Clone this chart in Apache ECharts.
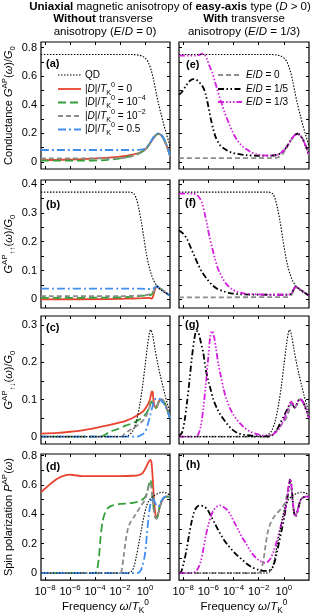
<!DOCTYPE html>
<html><head><meta charset="utf-8">
<script src="https://cdn.jsdelivr.net/npm/echarts@6/dist/echarts.min.js"></script>
<style>html,body{margin:0;padding:0;background:#fff}#c{width:315px;height:616px}</style>
</head><body><div id="c"></div>
<script>
// ---------- DATA (x = log10(omega/T_K^0)) ----------
const xTicks = [-8, -6, -4, -2, 0];
const yTicksA = [0,0.1,0.2,0.3,0.4,0.5,0.6,0.7,0.8], yLabA = [0,0.2,0.4,0.6,0.8];
const yTicksB = [0,0.05,0.1,0.15,0.2,0.25,0.3,0.35,0.4], yLabB = [0,0.1,0.2,0.3,0.4];
const yTicksC = [0,0.05,0.1,0.15,0.2,0.25,0.3], yLabC = [0,0.1,0.2,0.3];
const yTicksD = [0,0.1,0.2,0.3,0.4,0.5,0.6,0.7,0.8], yLabD = [0,0.2,0.4,0.6,0.8];

// (a) conductance
const aQD  = [[-8.33,0.752],[-1,0.752],[-0.5,0.748],[-0.2,0.74],[0.1,0.72],[0.3,0.69],[0.5,0.64],[0.7,0.57],[0.9,0.48],[1.1,0.4],[1.3,0.33],[1.5,0.26],[1.7,0.2],[1.9,0.14],[2,0.11]];
const aD0  = [[-8.33,0.012],[-7,0.014],[-6,0.016],[-5,0.019],[-4,0.024],[-3,0.03],[-2,0.037],[-1.5,0.042],[-1,0.05],[-0.5,0.062],[-0.2,0.075],[0.1,0.095],[0.4,0.13],[0.7,0.17],[0.9,0.19],[1.1,0.197],[1.3,0.185],[1.5,0.16],[1.7,0.12],[1.85,0.085],[2,0.04]];
const aD4  = [[-8.33,0.008],[-5,0.009],[-3.5,0.011],[-3,0.014],[-2,0.025],[-1.5,0.033],[-1,0.045],[-0.5,0.06],[-0.2,0.073],[0.1,0.094],[0.4,0.13],[0.7,0.17],[0.9,0.19],[1.1,0.197],[1.3,0.185],[1.5,0.16],[1.7,0.12],[1.85,0.085],[2,0.04]];
const aD2  = [[-8.33,0.024],[-3,0.024],[-2,0.026],[-1.5,0.03],[-1,0.04],[-0.5,0.057],[-0.2,0.072],[0.1,0.093],[0.4,0.13],[0.7,0.17],[0.9,0.19],[1.1,0.197],[1.3,0.185],[1.5,0.16],[1.7,0.12],[1.85,0.085],[2,0.04]];
const aD05 = [[-8.33,0.083],[-1,0.083],[-0.5,0.084],[-0.2,0.087],[0.1,0.1],[0.4,0.135],[0.7,0.175],[0.9,0.195],[1.1,0.2],[1.3,0.19],[1.5,0.165],[1.7,0.125],[1.85,0.09],[2,0.045]];
// (b) G_uu
const bQD  = [[-8.33,0.372],[-1.2,0.372],[-0.9,0.367],[-0.7,0.35],[-0.5,0.315],[-0.3,0.27],[-0.1,0.215],[0.1,0.16],[0.3,0.118],[0.5,0.087],[0.7,0.065],[0.9,0.05],[1.2,0.035],[1.6,0.023],[2,0.015]];
const bD0  = [[-8.33,0],[-3,0.001],[-1,0.003],[-0.2,0.004],[0.3,0.005],[0.55,0.003],[0.7,0.02],[0.85,0.04],[0.95,0.045],[1.1,0.04],[1.4,0.032],[1.7,0.022],[2,0.012]];
const bD4  = [[-8.33,0.005],[-3,0.006],[-1,0.009],[-0.3,0.012],[0.2,0.014],[0.5,0.016],[0.7,0.028],[0.85,0.042],[0.95,0.045],[1.1,0.04],[1.4,0.032],[1.7,0.022],[2,0.012]];
const bD2  = [[-8.33,0.011],[-2,0.011],[-1,0.012],[-0.3,0.014],[0.2,0.016],[0.5,0.02],[0.7,0.03],[0.85,0.042],[0.95,0.045],[1.1,0.04],[1.4,0.032],[1.7,0.022],[2,0.012]];
const bD05 = [[-8.33,0.037],[-0.5,0.037],[0.2,0.036],[0.5,0.035],[0.7,0.038],[0.85,0.044],[0.95,0.046],[1.1,0.041],[1.4,0.032],[1.7,0.022],[2,0.012]];
// (c) G_ud
const cQD  = [[-8.33,0],[-1.6,0],[-1.3,0.004],[-1.0,0.014],[-0.7,0.04],[-0.4,0.09],[-0.2,0.135],[0,0.19],[0.2,0.245],[0.35,0.278],[0.45,0.288],[0.6,0.275],[0.8,0.235],[1.0,0.2],[1.2,0.168],[1.4,0.14],[1.6,0.112],[1.8,0.087],[2,0.064]];
const cD0  = [[-8.33,0.008],[-7,0.01],[-6,0.013],[-5,0.017],[-4,0.023],[-3,0.03],[-2,0.038],[-1.5,0.043],[-1,0.05],[-0.5,0.06],[-0.1,0.07],[0.2,0.085],[0.4,0.1],[0.55,0.122],[0.62,0.12],[0.7,0.09],[0.8,0.08],[0.9,0.078],[1.0,0.085],[1.15,0.097],[1.3,0.1],[1.45,0.097],[1.6,0.088],[1.8,0.07],[2,0.05]];
const cD4  = [[-8.33,0],[-3.5,0],[-3.2,0.005],[-2.8,0.013],[-2.2,0.02],[-1.5,0.03],[-1,0.036],[-0.5,0.045],[-0.1,0.055],[0.2,0.068],[0.4,0.085],[0.52,0.095],[0.62,0.09],[0.75,0.08],[0.88,0.077],[1.0,0.085],[1.15,0.097],[1.3,0.1],[1.45,0.097],[1.6,0.088],[1.8,0.07],[2,0.05]];
const cD2  = [[-8.33,0],[-1.9,0],[-1.6,0.008],[-1.2,0.018],[-0.8,0.026],[-0.4,0.036],[0,0.05],[0.25,0.068],[0.45,0.088],[0.55,0.092],[0.65,0.087],[0.8,0.079],[0.9,0.078],[1.0,0.085],[1.15,0.097],[1.3,0.1],[1.45,0.097],[1.6,0.088],[1.8,0.07],[2,0.05]];
const cD05 = [[-8.33,0],[-0.6,0],[-0.3,0.004],[0,0.012],[0.2,0.03],[0.4,0.055],[0.55,0.075],[0.7,0.093],[0.85,0.102],[1.0,0.104],[1.2,0.1],[1.4,0.093],[1.6,0.084],[1.8,0.068],[2,0.05]];
// (d) spin polarization
const dQD  = [[-8.33,0],[-1.4,0],[-1.1,0.01],[-0.9,0.04],[-0.7,0.11],[-0.5,0.2],[-0.3,0.29],[-0.1,0.38],[0.1,0.45],[0.3,0.49],[0.6,0.52],[1.0,0.54],[1.4,0.55],[1.7,0.545],[2,0.53]];
const dD0  = [[-8.33,0.55],[-8,0.575],[-7.6,0.605],[-7.2,0.632],[-6.8,0.652],[-6.4,0.665],[-6.0,0.67],[-5.6,0.665],[-5.0,0.66],[-4,0.66],[-3,0.66],[-2,0.66],[-1,0.662],[-0.5,0.667],[-0.2,0.68],[0.05,0.715],[0.25,0.75],[0.42,0.77],[0.52,0.75],[0.62,0.64],[0.72,0.5],[0.82,0.41],[0.92,0.372],[1.02,0.39],[1.15,0.44],[1.3,0.48],[1.5,0.51],[1.7,0.52],[2,0.52]];
const dD4  = [[-8.33,0],[-4.0,0],[-3.85,0.02],[-3.7,0.1],[-3.55,0.25],[-3.4,0.35],[-3.2,0.41],[-3.0,0.44],[-2.6,0.46],[-2,0.47],[-1.2,0.475],[-0.6,0.485],[-0.2,0.5],[0.1,0.53],[0.3,0.6],[0.42,0.635],[0.52,0.6],[0.62,0.5],[0.72,0.42],[0.82,0.38],[0.92,0.37],[1.02,0.39],[1.15,0.44],[1.3,0.48],[1.5,0.51],[1.7,0.52],[2,0.52]];
const dD2  = [[-8.33,0],[-2.0,0],[-1.85,0.03],[-1.7,0.12],[-1.55,0.22],[-1.4,0.29],[-1.2,0.34],[-0.9,0.38],[-0.6,0.42],[-0.3,0.46],[0,0.5],[0.2,0.56],[0.38,0.61],[0.48,0.6],[0.6,0.5],[0.72,0.42],[0.82,0.38],[0.92,0.37],[1.02,0.39],[1.15,0.44],[1.3,0.48],[1.5,0.51],[1.7,0.52],[2,0.52]];
const dD05 = [[-8.33,0],[-0.6,0],[-0.4,0.01],[-0.2,0.05],[0,0.13],[0.15,0.26],[0.3,0.39],[0.45,0.48],[0.55,0.515],[0.7,0.5],[0.85,0.47],[1.0,0.45],[1.15,0.46],[1.3,0.49],[1.5,0.515],[1.7,0.522],[2,0.52]];
// (e) conductance, transverse anisotropy
const eE0  = [[-8.33,0.026],[-1,0.026],[-0.5,0.03],[-0.2,0.045],[0.1,0.08],[0.4,0.125],[0.7,0.17],[0.9,0.19],[1.1,0.197],[1.3,0.185],[1.5,0.16],[1.7,0.12],[1.85,0.085],[2,0.04]];
const eE15 = [[-8.33,0.47],[-8.1,0.49],[-7.8,0.53],[-7.5,0.565],[-7.2,0.58],[-7.0,0.578],[-6.8,0.565],[-6.6,0.545],[-6.4,0.52],[-6.2,0.47],[-6.0,0.39],[-5.8,0.3],[-5.6,0.225],[-5.4,0.17],[-5.2,0.135],[-5.0,0.11],[-4.6,0.085],[-4.2,0.067],[-3.7,0.056],[-3,0.047],[-2,0.043],[-1,0.044],[-0.5,0.05],[-0.2,0.065],[0.1,0.09],[0.4,0.13],[0.7,0.17],[0.9,0.19],[1.1,0.197],[1.3,0.185],[1.5,0.16],[1.7,0.12],[1.85,0.085],[2,0.04]];
const eE13 = [[-8.33,0.745],[-7,0.745],[-6.7,0.75],[-6.5,0.758],[-6.3,0.752],[-6.1,0.72],[-5.9,0.67],[-5.7,0.63],[-5.5,0.57],[-5.3,0.51],[-5.1,0.45],[-4.9,0.4],[-4.7,0.345],[-4.5,0.3],[-4.3,0.255],[-4.1,0.215],[-3.9,0.18],[-3.6,0.14],[-3.3,0.11],[-3,0.09],[-2.6,0.068],[-2.2,0.055],[-1.6,0.045],[-1,0.044],[-0.5,0.05],[-0.2,0.065],[0.1,0.09],[0.4,0.13],[0.7,0.17],[0.9,0.19],[1.1,0.197],[1.3,0.185],[1.5,0.16],[1.7,0.12],[1.85,0.085],[2,0.04]];
// (f)
const fE0  = [[-8.33,0.007],[0.3,0.008],[0.6,0.015],[0.8,0.035],[0.93,0.043],[1.1,0.04],[1.4,0.032],[1.7,0.022],[2,0.012]];
const fE15 = [[-8.33,0.24],[-8.0,0.228],[-7.7,0.21],[-7.4,0.18],[-7.1,0.15],[-6.8,0.12],[-6.5,0.095],[-6.1,0.07],[-5.7,0.05],[-5.3,0.037],[-4.8,0.028],[-4.2,0.021],[-3.2,0.017],[-1,0.016],[0.3,0.016],[0.6,0.02],[0.8,0.036],[0.93,0.043],[1.1,0.04],[1.4,0.032],[1.7,0.022],[2,0.012]];
const fE13 = [[-8.33,0.367],[-7.2,0.367],[-6.9,0.362],[-6.7,0.352],[-6.5,0.335],[-6.3,0.3],[-6.1,0.26],[-5.9,0.215],[-5.7,0.18],[-5.5,0.145],[-5.3,0.115],[-5.1,0.093],[-4.8,0.068],[-4.5,0.05],[-4.1,0.035],[-3.7,0.026],[-3.2,0.021],[-2.4,0.018],[-1,0.016],[0.3,0.016],[0.6,0.02],[0.8,0.036],[0.93,0.043],[1.1,0.04],[1.4,0.032],[1.7,0.022],[2,0.012]];
// (g)
const gE0  = [[-8.33,0],[-1.3,0],[-1.0,0.004],[-0.7,0.013],[-0.4,0.024],[-0.1,0.036],[0.2,0.05],[0.4,0.068],[0.55,0.085],[0.65,0.088],[0.8,0.079],[0.9,0.078],[1.0,0.085],[1.15,0.097],[1.3,0.1],[1.45,0.097],[1.6,0.088],[1.8,0.07],[2,0.05]];
const gE15 = [[-8.33,0.002],[-8.1,0.01],[-7.9,0.04],[-7.7,0.09],[-7.5,0.15],[-7.3,0.215],[-7.1,0.265],[-6.95,0.285],[-6.8,0.282],[-6.6,0.255],[-6.4,0.225],[-6.2,0.18],[-6.0,0.15],[-5.8,0.125],[-5.6,0.1],[-5.3,0.075],[-5.0,0.057],[-4.6,0.038],[-4.2,0.022],[-3.7,0.01],[-3,0.004],[-2,0.001],[-1.2,0],[-0.9,0.004],[-0.6,0.015],[-0.3,0.035],[0,0.055],[0.3,0.075],[0.5,0.09],[0.6,0.094],[0.7,0.088],[0.85,0.078],[1.0,0.085],[1.15,0.097],[1.3,0.1],[1.45,0.097],[1.6,0.088],[1.8,0.07],[2,0.05]];
const gE13 = [[-8.33,0],[-7.0,0],[-6.8,0.006],[-6.6,0.028],[-6.4,0.075],[-6.2,0.14],[-6.0,0.215],[-5.85,0.268],[-5.7,0.285],[-5.55,0.27],[-5.4,0.24],[-5.2,0.195],[-5.0,0.162],[-4.8,0.13],[-4.6,0.105],[-4.3,0.078],[-4.0,0.058],[-3.6,0.04],[-3.2,0.026],[-2.7,0.014],[-2.2,0.007],[-1.6,0.003],[-1.0,0.004],[-0.7,0.01],[-0.4,0.02],[-0.1,0.038],[0.2,0.062],[0.45,0.085],[0.6,0.094],[0.7,0.088],[0.85,0.078],[1.0,0.085],[1.15,0.097],[1.3,0.1],[1.45,0.097],[1.6,0.088],[1.8,0.07],[2,0.05]];
// (h)
const hE0  = [[-8.33,0],[-2.0,0],[-1.8,0.02],[-1.6,0.1],[-1.45,0.19],[-1.3,0.27],[-1.1,0.33],[-0.8,0.38],[-0.5,0.41],[-0.2,0.44],[0.05,0.47],[0.25,0.53],[0.4,0.6],[0.5,0.62],[0.6,0.58],[0.72,0.47],[0.82,0.41],[0.93,0.385],[1.05,0.41],[1.2,0.46],[1.35,0.5],[1.55,0.515],[1.75,0.52],[2,0.52]];
const hE15 = [[-8.33,0],[-8.15,0.01],[-7.95,0.07],[-7.75,0.15],[-7.55,0.25],[-7.35,0.34],[-7.15,0.41],[-6.95,0.445],[-6.7,0.46],[-6.4,0.455],[-6.1,0.435],[-5.8,0.39],[-5.5,0.34],[-5.2,0.29],[-4.9,0.245],[-4.5,0.195],[-4.1,0.155],[-3.7,0.12],[-3.3,0.09],[-2.9,0.06],[-2.5,0.038],[-2.0,0.022],[-1.5,0.015],[-1.2,0.017],[-0.95,0.03],[-0.75,0.07],[-0.55,0.14],[-0.35,0.22],[-0.15,0.3],[0.05,0.39],[0.25,0.49],[0.4,0.58],[0.5,0.635],[0.6,0.6],[0.72,0.48],[0.82,0.41],[0.93,0.385],[1.05,0.41],[1.2,0.46],[1.35,0.5],[1.55,0.515],[1.75,0.52],[2,0.52]];
const hE13 = [[-8.33,0],[-7.3,0],[-7.0,0.012],[-6.8,0.035],[-6.6,0.08],[-6.4,0.16],[-6.2,0.255],[-6.0,0.325],[-5.8,0.385],[-5.6,0.425],[-5.35,0.45],[-5.1,0.46],[-4.8,0.45],[-4.5,0.43],[-4.2,0.39],[-3.9,0.34],[-3.6,0.29],[-3.3,0.24],[-3.0,0.2],[-2.7,0.155],[-2.4,0.12],[-2.1,0.095],[-1.8,0.078],[-1.55,0.07],[-1.3,0.075],[-1.05,0.1],[-0.8,0.15],[-0.55,0.22],[-0.3,0.3],[-0.05,0.38],[0.15,0.45],[0.3,0.54],[0.42,0.62],[0.5,0.64],[0.6,0.6],[0.72,0.48],[0.82,0.41],[0.93,0.385],[1.05,0.41],[1.2,0.46],[1.35,0.5],[1.55,0.515],[1.75,0.52],[2,0.52]];

// ---------- STYLE / LAYOUT ----------
const FF = '"Liberation Sans", Arial, Helvetica, sans-serif';
const XMIN = -8.33, XMAX = 2;
const ST = {
  qd:  {color:'#000000', width:1.1, type:[1.5,1.5]},
  d0:  {color:'#e8432e', width:1.8, type:'solid'},
  d4:  {color:'#36a03c', width:1.8, type:[8,4]},
  d2:  {color:'#8c8c8c', width:1.8, type:[5,3]},
  d05: {color:'#3f8ef0', width:1.8, type:[8,3,2,3]},
  e0:  {color:'#8c8c8c', width:1.8, type:[5,3]},
  e15: {color:'#000000', width:1.8, type:[6,2.5,1.5,2.5,1.5,2.5]},
  e13: {color:'#d41fe0', width:1.8, type:[6,2,1.5,2,1.5,2,1.5,2]}
};
function rich(size, key) {
  const c = key || 'color';
  const base = (o) => Object.assign({fontSize:size, fontFamily:FF, fontStyle:'normal', fontWeight:'normal', lineHeight:size+5, verticalAlign:'middle', [c]:'#000'}, o);
  const s = Math.round(size*0.72*10)/10;
  return {
    n: base({}), i: base({fontStyle:'italic'}), b: base({fontWeight:'bold'}),
    sup: base({fontSize:s, lineHeight:s+1, verticalAlign:'top'}),
    sub: base({fontSize:s, lineHeight:s+1, verticalAlign:'bottom'})
  };
}
const rows = [{top:42,h:127},{top:180,h:128},{top:316,h:128},{top:454,h:130}];
const cols = [{left:41,w:129},{left:179,w:130}];
const Dlab = '{n||}{i|D}{n||/}{i|T}{sub|K}{sup|0}{n| = }';
const panels = [
  {row:0,col:0,yr:[-0.05,0.84],tk:yTicksA,lb:yLabA,name:'{n|Conductance }{i|G}{sup|AP}{n|(}{i|ω}{n|)/}{i|G}{sub|0}',
   s:[[aQD,'qd','QD'],[aD0,'d0','D0'],[aD4,'d4','D4'],[aD2,'d2','D2'],[aD05,'d05','D05']]},
  {row:1,col:0,yr:[-0.03,0.414],tk:yTicksB,lb:yLabB,name:'{i|G}{sup|AP}{sub|↑↑}{n|(}{i|ω}{n|)/}{i|G}{sub|0}',
   s:[[bQD,'qd','QD'],[bD0,'d0','D0'],[bD4,'d4','D4'],[bD2,'d2','D2'],[bD05,'d05','D05']]},
  {row:2,col:0,yr:[-0.02,0.325],tk:yTicksC,lb:yLabC,name:'{i|G}{sup|AP}{sub|↑↓}{n|(}{i|ω}{n|)/}{i|G}{sub|0}',
   s:[[cQD,'qd','QD'],[cD0,'d0','D0'],[cD4,'d4','D4'],[cD2,'d2','D2'],[cD05,'d05','D05']]},
  {row:3,col:0,yr:[-0.048,0.81],tk:yTicksD,lb:yLabD,name:'{n|Spin polarization }{i|P}{sup|AP}{n|(}{i|ω}{n|)}',
   s:[[dQD,'qd','QD'],[dD0,'d0','D0'],[dD4,'d4','D4'],[dD2,'d2','D2'],[dD05,'d05','D05']]},
  {row:0,col:1,yr:[-0.05,0.84],tk:yTicksA,lb:yLabA,s:[[aQD,'qd','QD'],[eE0,'e0','E0'],[eE15,'e15','E15'],[eE13,'e13','E13']]},
  {row:1,col:1,yr:[-0.03,0.414],tk:yTicksB,lb:yLabB,s:[[bQD,'qd','QD'],[fE0,'e0','E0'],[fE15,'e15','E15'],[fE13,'e13','E13']]},
  {row:2,col:1,yr:[-0.02,0.325],tk:yTicksC,lb:yLabC,s:[[cQD,'qd','QD'],[gE0,'e0','E0'],[gE15,'e15','E15'],[gE13,'e13','E13']]},
  {row:3,col:1,yr:[-0.048,0.81],tk:yTicksD,lb:yLabD,s:[[dQD,'qd','QD'],[hE0,'e0','E0'],[hE15,'e15','E15'],[hE13,'e13','E13']]}
];
const grids=[], xAxes=[], yAxes=[], series=[];
const tickStyle = {inside:true, length:3, lineStyle:{color:'#000', width:1}};
const noLine = {show:false, onZero:false};
panels.forEach((p, g) => {
  const r = rows[p.row], c = cols[p.col];
  grids.push({left:c.left, top:r.top, width:c.w, height:r.h, show:true, borderColor:'#000', borderWidth:1.2, backgroundColor:'transparent'});
  const bottom = p.row === 3;
  xAxes.push({type:'value', gridIndex:g, position:'bottom', min:XMIN, max:XMAX,
    axisLine:noLine, splitLine:{show:false},
    axisTick:Object.assign({customValues:xTicks}, tickStyle),
    axisLabel:{show:bottom, customValues:xTicks, margin:4,
      formatter:(v)=>'{n|10}{sup|'+(v<0?'−'+(-v):v)+'}', rich:rich(11)},
    name: bottom ? '{n|Frequency }{i|ω}{n|/}{i|T}{sub|K}{sup|0}' : '', nameLocation:'middle', nameGap:14,
    nameTextStyle:{rich:rich(11.5)}});
  xAxes.push({type:'value', gridIndex:g, position:'top', min:XMIN, max:XMAX,
    axisLine:noLine, splitLine:{show:false},
    axisTick:Object.assign({customValues:xTicks}, tickStyle), axisLabel:{show:false}});
  const left = p.col === 0;
  yAxes.push({type:'value', gridIndex:g, position:'left', min:p.yr[0], max:p.yr[1],
    axisLine:noLine, splitLine:{show:false},
    axisTick:Object.assign({customValues:p.tk}, tickStyle),
    axisLabel:{show:left, customValues:p.lb, margin:4, fontSize:11, fontFamily:FF, color:'#000',
      formatter:(v)=> v===0 ? '0' : String(+v.toFixed(2))},
    name: left ? p.name : '', nameLocation:'middle', nameRotate:90, nameGap:24,
    nameTextStyle:{rich:rich(11)}});
  yAxes.push({type:'value', gridIndex:g, position:'right', min:p.yr[0], max:p.yr[1],
    axisLine:noLine, splitLine:{show:false},
    axisTick:Object.assign({customValues:p.tk}, tickStyle), axisLabel:{show:false}});
  p.s.forEach(([data, st, nm]) => {
    series.push({type:'line', name:nm, xAxisIndex:2*g, yAxisIndex:2*g, data:data,
      showSymbol:false, symbol:'none', smooth:0.3, lineStyle:ST[st], silent:true, z: st==='qd'?3:2, clip:true});
  });
});

// ---------- TEXT / LEGENDS ----------
function txt(x, y, text, size, align) {
  return {type:'text', x:x, y:y, silent:true, z:100, style:{text:text, rich:rich(size,'fill'),
    fontSize:size, fontFamily:FF, fill:'#000', align:align||'left', textAlign:align||'left',
    verticalAlign:'middle', textVerticalAlign:'middle'}};
}
function lline(x1, x2, y, st) {
  const s = ST[st];
  return {type:'line', silent:true, z:100, shape:{x1:x1, y1:y, x2:x2, y2:y},
    style:{stroke:s.color, lineWidth:s.width, lineDash: Array.isArray(s.type)? s.type : null}};
}
const graphic = [
  txt(170, 7, '{b|Uniaxial}{n| magnetic anisotropy of }{b|easy-axis}{n| type (}{i|D}{n| > 0)}', 11.5, 'center'),
  txt(103, 19, '{b|Without}{n| transverse}', 11.5, 'center'),
  txt(105, 32, '{n|anisotropy (}{i|E}{n|/}{i|D}{n| = 0)}', 11.5, 'center'),
  txt(244, 19, '{b|With}{n| transverse}', 11.5, 'center'),
  txt(244, 32, '{n|anisotropy (}{i|E}{n|/}{i|D}{n| = 1/3)}', 11.5, 'center'),
  txt(46, 64, '{b|(a)}', 11), txt(46, 205, '{b|(b)}', 11), txt(46, 328, '{b|(c)}', 11), txt(46, 467, '{b|(d)}', 11),
  txt(186, 65, '{b|(e)}', 11), txt(185, 203, '{b|(f)}', 11), txt(185, 325, '{b|(g)}', 11), txt(186, 465, '{b|(h)}', 11),
  lline(58, 81, 75, 'qd'), txt(85, 75, '{n|QD}', 10),
  lline(58, 81, 89, 'd0'), txt(85, 89, Dlab + '{n|0}', 10),
  lline(58, 81, 102.5, 'd4'), txt(85, 102.5, Dlab + '{n|10}{sup|−4}', 10),
  lline(58, 81, 116, 'd2'), txt(85, 116, Dlab + '{n|10}{sup|−2}', 10),
  lline(58, 81, 129.5, 'd05'), txt(85, 129.5, Dlab + '{n|0.5}', 10),
  lline(218, 242, 75, 'e0'), txt(246, 75, '{i|E}{n|/}{i|D}{n| = 0}', 10),
  lline(218, 242, 89, 'e15'), txt(246, 89, '{i|E}{n|/}{i|D}{n| = 1/5}', 10),
  lline(218, 242, 102, 'e13'), txt(246, 102, '{i|E}{n|/}{i|D}{n| = 1/3}', 10)
];

const chart = echarts.init(document.getElementById('c'), null, {renderer:'canvas'});
chart.setOption({animation:false, backgroundColor:'#fff', textStyle:{fontFamily:FF},
  grid:grids, xAxis:xAxes, yAxis:yAxes, series:series, graphic:graphic});
</script></body></html>
